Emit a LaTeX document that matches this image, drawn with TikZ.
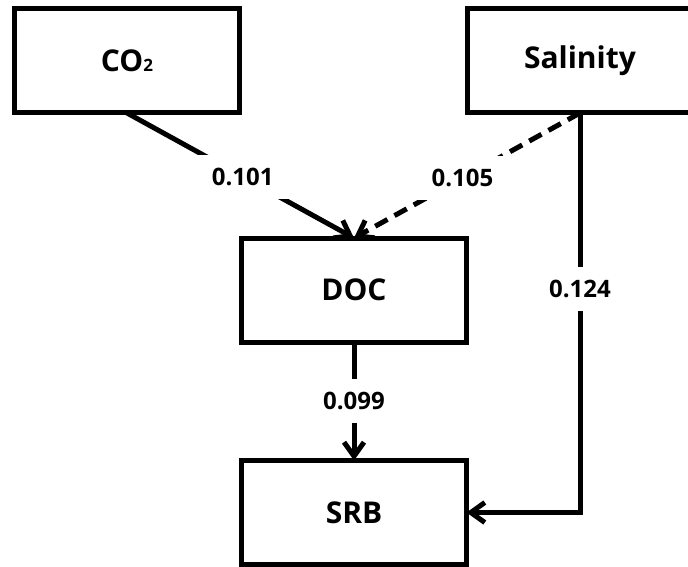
\documentclass[tikz,border=0pt]{standalone}
\usepackage{fontspec}
\setmainfont{Open Sans}
\usetikzlibrary{arrows.meta}
\begin{document}
\begin{tikzpicture}[x=1pt,y=-1pt,
  box/.style={draw, line width=5pt, minimum width=225pt, minimum height=104pt, inner sep=0pt, outer sep=0pt,
    font=\fontsize{30pt}{32pt}\selectfont\bfseries},
  lbl/.style={fill=white, inner sep=0pt, minimum width=108pt, minimum height=44pt,
    font=\fontsize{24pt}{26pt}\selectfont\bfseries},
  conn/.style={line width=5pt, -{Straight Barb[length=14pt,width=20pt]}},
  plain/.style={line width=5pt}
]
\useasboundingbox (0,0) rectangle (688,567);
\node[box] (co2) at (127,61) {CO{\fontsize{17pt}{17pt}\selectfont 2}};
\node[box] (sal) at (580,61) {Salinity};
\node[box] (doc) at (354,290) {DOC};
\node[box] (srb) at (354,512.5) {SRB};
\coordinate (corner) at (580,512.5);
\draw[conn] (co2.south) -- node[lbl, pos=0.51] {0.101} (doc.north);
\draw[conn, dash pattern=on 14pt off 8pt] (sal.south) -- node[lbl, pos=0.52] {0.105} (doc.north);
\draw[conn] (doc.south) -- node[lbl] {0.099} (srb.north);
\draw[conn] (sal.south) -- node[lbl, minimum width=94pt, pos=0.44] {0.124} (corner) -- (srb.east);
\end{tikzpicture}
\end{document}
